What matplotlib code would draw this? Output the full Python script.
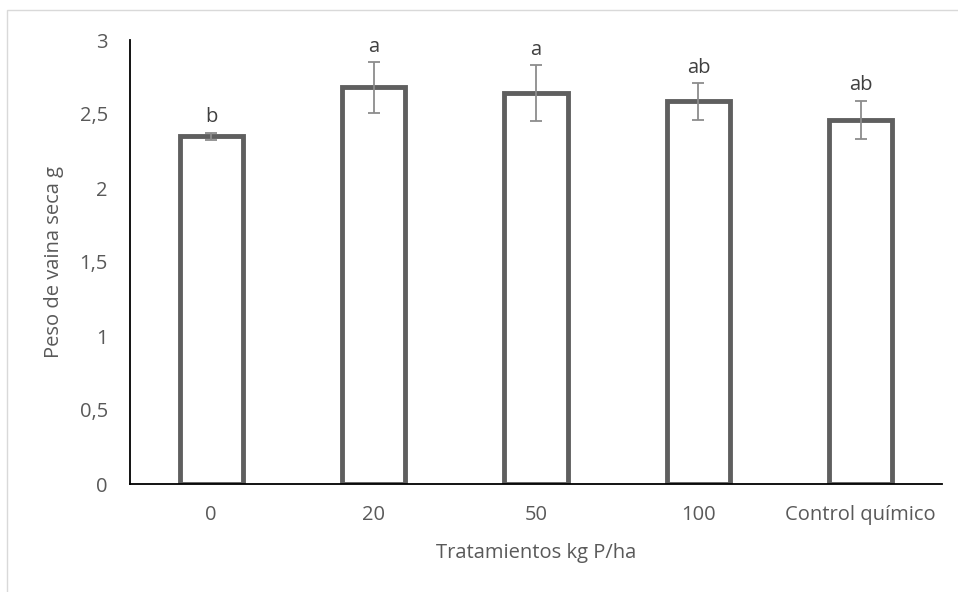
import matplotlib.pyplot as plt
from matplotlib.patches import Rectangle
from matplotlib.ticker import FuncFormatter

categories = ['0', '20', '50', '100', 'Control químico']
values = [2.35, 2.68, 2.64, 2.585, 2.46]
errors = [0.025, 0.17, 0.19, 0.125, 0.13]
letters = ['b', 'a', 'a', 'ab', 'ab']

plt.rcParams['font.family'] = ['Open Sans', 'DejaVu Sans']

fig = plt.figure(figsize=(9.58, 5.92), dpi=100)
fig.patches.append(Rectangle((7 / 958, -0.1), 1.2, (592 - 10) / 592 + 0.1,
                             transform=fig.transFigure, fill=False,
                             edgecolor='#d9d9d9', linewidth=1))
ax = fig.add_axes([130 / 958, 108 / 592, 812 / 958, 444 / 592])

x = range(len(categories))
ax.bar(x, values, width=0.39, color='white', edgecolor='#5f5f5f', linewidth=3.5, zorder=2)
ax.errorbar(x, values, yerr=errors, fmt='none', ecolor='#8c8c8c', elinewidth=1.3,
            capsize=4.5, capthick=1.3, zorder=3)
for i, (v, e, t) in enumerate(zip(values, errors, letters)):
    ax.text(i, v + e + 0.035, t, ha='center', va='bottom', fontsize=14.5, color='#404040')

ax.set_xlim(-0.5, len(categories) - 0.5)
ax.set_ylim(0, 3)
ax.set_yticks([0, 0.5, 1, 1.5, 2, 2.5, 3])
ax.yaxis.set_major_formatter(FuncFormatter(lambda v, p: f'{v:g}'.replace('.', ',')))
ax.set_xticks(list(x))
ax.set_xticklabels(categories)
ax.tick_params(length=0, labelsize=14.5, labelcolor='#595959')
ax.tick_params(axis='x', pad=15)
ax.tick_params(axis='y', pad=16)
for s in ['top', 'right']:
    ax.spines[s].set_visible(False)
for s in ['left', 'bottom']:
    ax.spines[s].set_color('black')
    ax.spines[s].set_linewidth(1.3)
ax.set_xlabel('Tratamientos kg P/ha', fontsize=14.5, color='#595959', labelpad=13)
ax.set_ylabel('Peso de vaina seca g', fontsize=14.5, color='#595959', labelpad=11)

fig.savefig('out.png', dpi=100)
